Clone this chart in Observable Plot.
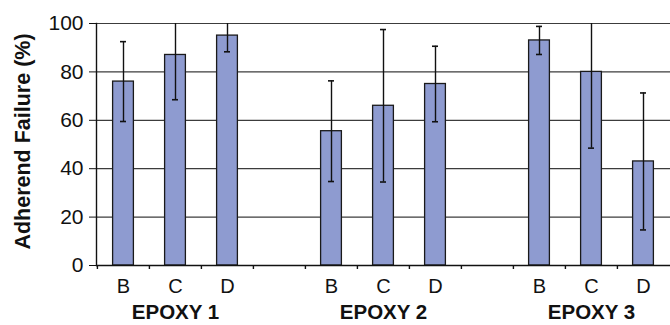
<!DOCTYPE html>
<html>
<head>
<meta charset="utf-8">
<script src="https://cdn.jsdelivr.net/npm/d3@7"></script>
<script src="https://cdn.jsdelivr.net/npm/@observablehq/plot@0.6"></script>
<style>
  html, body { margin: 0; padding: 0; background: #fff; }
  svg { font-family: "Liberation Sans", Arial, sans-serif; }
</style>
</head>
<body>
<div id="chart"></div>
<script>
const epoxies = ["EPOXY 1", "EPOXY 2", "EPOXY 3"];
const specimens = ["B", "C", "D"];
const means = [
  [76, 87, 95],
  [55.5, 66, 75],
  [93, 80, 43]
];
const sds = [
  [16.5, 18.5, 6.7],
  [20.8, 31.5, 15.6],
  [5.8, 31.5, 28.3]
];
const yTicks = [0, 20, 40, 60, 80, 100];

// build table
const rows = [];
const domain = [];
epoxies.forEach((e, i) => {
  specimens.forEach((s, j) => {
    const key = `${i + 1}${s}`;
    domain.push(key);
    rows.push({key, epoxy: e, specimen: s, mean: means[i][j], sd: sds[i][j],
      lo: means[i][j] - sds[i][j], hi: means[i][j] + sds[i][j]});
  });
  if (i < epoxies.length - 1) domain.push(`gap${i + 1}`);
});
const labelOf = Object.fromEntries(rows.map(r => [r.key, r.specimen]));
const groupRows = epoxies.map((e, i) => ({key: `${i + 1}C`, epoxy: e}));

const W = 670, H = 325, mL = 96, mR = 0, mT = 23, mB = 60;
const step = (W - mL - mR) / domain.length;

const chart = Plot.plot({
  width: W, height: H,
  marginLeft: mL, marginRight: mR, marginTop: mT, marginBottom: mB,
  style: {fontFamily: "Liberation Sans, Arial, sans-serif", fontSize: "20px", color: "#111", background: "#fff"},
  x: {type: "band", domain, padding: 0, axis: null},
  y: {domain: [0, 100], axis: null},
  marks: [
    Plot.ruleY(yTicks.filter(d => d > 0), {stroke: "#3c3c3c", strokeWidth: 1.2}),
    Plot.barY(rows, {x: "key", y: "mean", fill: "#8e9bd0", stroke: "#1a1a1a", strokeWidth: 1.3, insetLeft: 15.6, insetRight: 15.6}),
    Plot.ruleX(rows, {x: "key", y1: "lo", y2: "hi", stroke: "#111", strokeWidth: 1.4, clip: true}),
    Plot.tickY(rows, {x: "key", y: "lo", stroke: "#111", strokeWidth: 1.6, insetLeft: 23, insetRight: 23, clip: true}),
    Plot.tickY(rows, {x: "key", y: "hi", stroke: "#111", strokeWidth: 1.6, insetLeft: 23, insetRight: 23, clip: true}),
    Plot.ruleY([0], {stroke: "#111", strokeWidth: 1.4}),
    Plot.frame({anchor: "left", stroke: "#111", strokeWidth: 1.4}),
    Plot.axisY({ticks: yTicks, tickSize: 7, tickPadding: 6, fontSize: 21, label: null, stroke: "#111"}),
    Plot.axisX({ticks: domain, tickSize: 4, tickFormat: () => "", dx: -step / 2, label: null, stroke: "#111", strokeWidth: 1.4}),
    Plot.axisX({ticks: domain, tickSize: 0, tickPadding: 13, tickFormat: d => labelOf[d] || "", fontSize: 20, label: null}),
    Plot.text(groupRows, {x: "key", y: () => 0, text: "epoxy", dy: 47, fontSize: 20.5, fontWeight: "bold", fill: "#111"}),
    Plot.text(["Adherend Failure (%)"], {frameAnchor: "left", textAnchor: "middle", dx: -73, dy: -3, rotate: -90, fontSize: 21.5, fontWeight: "bold", fill: "#111"})
  ]
});
document.getElementById("chart").appendChild(chart);
</script>
</body>
</html>
